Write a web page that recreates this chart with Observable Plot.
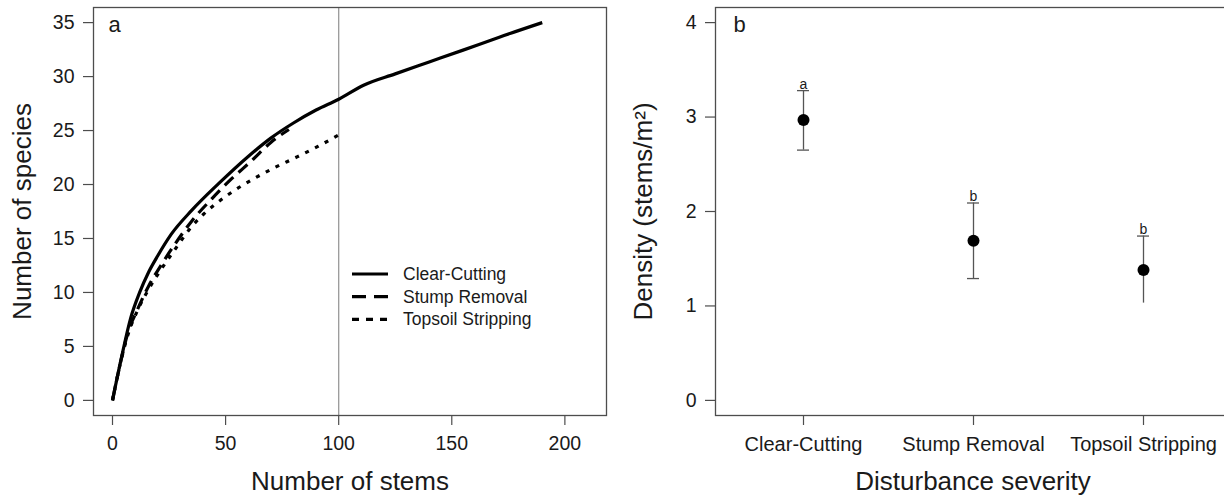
<!DOCTYPE html>
<html><head><meta charset="utf-8">
<script src="https://cdn.jsdelivr.net/npm/d3@7"></script>
<script src="https://cdn.jsdelivr.net/npm/@observablehq/plot@0.6"></script>
<style>
html,body{margin:0;background:#fff;overflow:hidden;}
#wrap{position:relative;width:1224px;height:497px;overflow:hidden;font-family:"Liberation Sans",Arial,sans-serif;}
#wrap svg{position:absolute;top:0;max-width:none !important;}
</style></head><body><div id="wrap"></div>
<script>
// ---- Panel a: rarefaction curves ----
const seriesNames = ["Clear-Cutting", "Stump Removal", "Topsoil Stripping"];
const seriesDash = ["none", "12,7", "4,7"];
const ccStems   = [0, 4, 8, 12, 16, 20, 26, 35, 47, 60, 70, 80, 90, 100, 111, 125, 140, 155, 171, 190];
const ccSpecies = [0, 4.0, 7.6, 10.0, 11.9, 13.4, 15.4, 17.6, 20.1, 22.6, 24.3, 25.7, 26.9, 27.9, 29.2, 30.25, 31.35, 32.45, 33.65, 35.0];
const srStems   = [0, 3, 7, 11, 16, 22, 28, 35, 44, 52, 62, 70, 78];
const srSpecies = [0, 3, 6.4, 8.4, 10.6, 12.7, 14.6, 16.6, 18.7, 20.4, 22.3, 23.9, 25.1];
const tsStems   = [0, 3, 7, 11, 16, 22, 28, 35, 40, 45, 55, 63, 72, 81, 91, 100];
const tsSpecies = [0, 3, 6.2, 8.3, 10.3, 12.3, 14.1, 16.1, 17.2, 18.1, 19.6, 20.6, 21.6, 22.5, 23.55, 24.6];
const referenceStems = [100];
const xTicksA = [0, 50, 100, 150, 200];
const yTicksA = [0, 5, 10, 15, 20, 25, 30, 35];

// ---- Panel b: density by disturbance ----
const categories = ["Clear-Cutting", "Stump Removal", "Topsoil Stripping"];
const densityMean = [2.97, 1.69, 1.38];
const densityLow  = [2.65, 1.29, 1.03];
const densityHigh = [3.28, 2.09, 1.74];
const groupLetters = ["a", "b", "b"];
const lowerCapShown = [true, true, false];
const yTicksB = [0, 1, 2, 3, 4];
const yDomainB = [-0.16, 4.16];

const FONT = "Liberation Sans, Arial, sans-serif";
const INK = "#1a1a1a";
const AX = "#4d4d4d";

const toPts = (xs, ys) => xs.map((x, i) => ({x, y: ys[i]}));
const curves = [toPts(ccStems, ccSpecies), toPts(srStems, srSpecies), toPts(tsStems, tsSpecies)];

const plotA = Plot.plot({
  width: 620, height: 497,
  marginLeft: 93, marginRight: 14, marginTop: 7, marginBottom: 82,
  style: {fontFamily: FONT, color: INK, background: "transparent", overflow: "visible"},
  x: {domain: [-8.4, 218.4], label: null},
  y: {domain: [-1.4, 36.4], label: null},
  marks: [
    Plot.ruleX(referenceStems, {stroke: "#9a9a9a", strokeWidth: 1.3}),
    ...curves.map((c, i) => Plot.line(c, {x: "x", y: "y", curve: "monotone-x", stroke: "#000",
      strokeWidth: 3.2, strokeDasharray: seriesDash[i] === "none" ? null : seriesDash[i], strokeLinecap: "butt"})),
    Plot.frame({stroke: AX, strokeWidth: 1.3}),
    Plot.axisX({ticks: xTicksA, tickSize: 10, tickPadding: 11, fontSize: 19.5, stroke: AX, strokeWidth: 1.2, label: null}),
    Plot.axisY({ticks: yTicksA, tickSize: 10, tickPadding: 9, fontSize: 19.5, stroke: AX, strokeWidth: 1.2, label: null}),
    Plot.text(["Number of species"], {frameAnchor: "left", dx: -71, rotate: -90, fontSize: 26, textAnchor: "middle", lineAnchor: "middle", fill: INK}),
    Plot.text(["Number of stems"], {frameAnchor: "bottom", dy: 66, fontSize: 26, textAnchor: "middle", lineAnchor: "middle", fill: INK}),
    Plot.text(["a"], {frameAnchor: "top-left", dx: 15, dy: 24, fontSize: 22, lineAnchor: "bottom", textAnchor: "start", fill: INK})
  ]
});
plotA.style.left = "0px";
document.getElementById("wrap").appendChild(plotA);

// legend inside panel a
const ns = "http://www.w3.org/2000/svg";
const leg = document.createElementNS(ns, "svg");
leg.setAttribute("width", 620); leg.setAttribute("height", 497);
leg.style.left = "0px"; leg.style.pointerEvents = "none";
seriesNames.forEach((name, i) => {
  const yy = 274 + i * 22.7;
  const ln = document.createElementNS(ns, "line");
  ln.setAttribute("x1", 352); ln.setAttribute("x2", 388);
  ln.setAttribute("y1", yy); ln.setAttribute("y2", yy);
  ln.setAttribute("stroke", "#000"); ln.setAttribute("stroke-width", 3.2);
  if (seriesDash[i] !== "none") ln.setAttribute("stroke-dasharray", i === 1 ? "14,8" : "7,7");
  leg.appendChild(ln);
  const t = document.createElementNS(ns, "text");
  t.setAttribute("x", 403); t.setAttribute("y", yy + 6);
  t.setAttribute("font-size", 17.5); t.setAttribute("font-family", FONT);
  t.setAttribute("fill", INK);
  t.textContent = name;
  leg.appendChild(t);
});
document.getElementById("wrap").appendChild(leg);

const rows = categories.map((c, i) => ({c, m: densityMean[i], lo: densityLow[i], hi: densityHigh[i], g: groupLetters[i], lc: lowerCapShown[i]}));

const plotB = Plot.plot({
  width: 604, height: 497,
  marginLeft: 95, marginRight: -6, marginTop: 7, marginBottom: 82,
  style: {fontFamily: FONT, color: INK, background: "transparent", overflow: "hidden"},
  x: {type: "band", domain: categories, paddingInner: 0.9295, paddingOuter: 0.4786, label: null},
  y: {domain: yDomainB, label: null},
  marks: [
    Plot.ruleX(rows, {x: "c", y1: "lo", y2: "hi", stroke: "#555", strokeWidth: 1.3}),
    Plot.tickY(rows, {x: "c", y: "hi", stroke: "#555", strokeWidth: 1.3}),
    Plot.tickY(rows.filter(d => d.lc), {x: "c", y: "lo", stroke: "#555", strokeWidth: 1.3}),
    Plot.dot(rows, {x: "c", y: "m", r: 6, fill: "#000", stroke: "none"}),
    Plot.text(rows, {x: "c", y: "hi", text: "g", dy: -2, lineAnchor: "bottom", fontSize: 14, fill: INK}),
    Plot.frame({stroke: AX, strokeWidth: 1.3}),
    Plot.axisX({tickSize: 10, tickPadding: 11, fontSize: 20, stroke: AX, strokeWidth: 1.2, label: null}),
    Plot.axisY({ticks: yTicksB, tickFormat: "d", tickSize: 10, tickPadding: 9, fontSize: 19.5, stroke: AX, strokeWidth: 1.2, label: null}),
    Plot.text(["Density (stems/m²)"], {frameAnchor: "left", dx: -72, rotate: -90, fontSize: 26, textAnchor: "middle", lineAnchor: "middle", fill: INK}),
    Plot.text(["Disturbance severity"], {frameAnchor: "bottom", dy: 66, fontSize: 26, textAnchor: "middle", lineAnchor: "middle", fill: INK}),
    Plot.text(["b"], {frameAnchor: "top-left", dx: 18, dy: 24, fontSize: 22, lineAnchor: "bottom", textAnchor: "start", fill: INK})
  ]
});
plotB.style.left = "620px";
document.getElementById("wrap").appendChild(plotB);
</script>
</body></html>
